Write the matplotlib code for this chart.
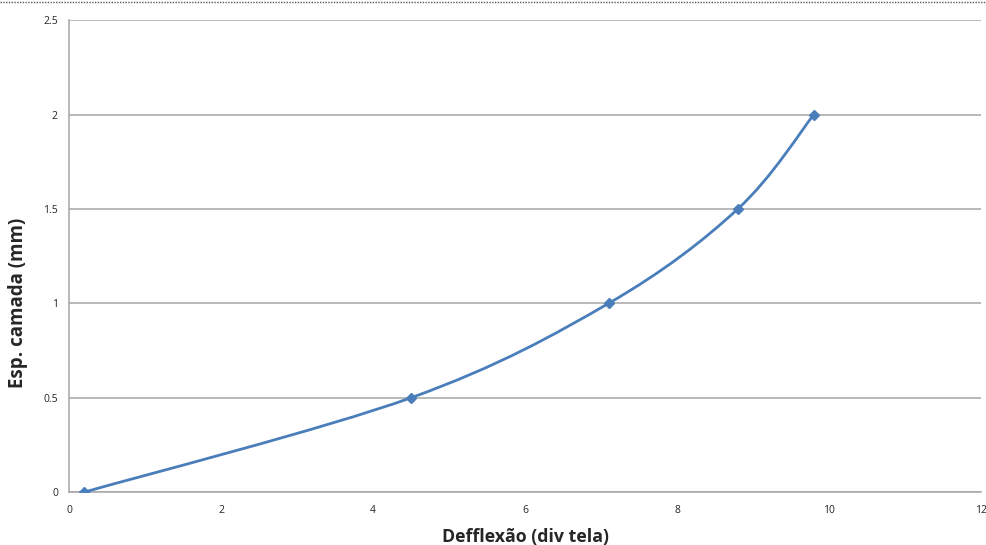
import numpy as np
import matplotlib
matplotlib.use('Agg')
import matplotlib.pyplot as plt
from matplotlib.path import Path
from matplotlib.patches import PathPatch

# valores
deflexao = [0.2, 4.5, 7.1, 8.8, 9.8]
espessura = [0.0, 0.5, 1.0, 1.5, 2.0]
x_ticks = [0, 2, 4, 6, 8, 10, 12]
y_ticks = [0, 0.5, 1, 1.5, 2, 2.5]
y_tick_labels = ['0', '0.5', '1', '1.5', '2', '2.5']

cor = '#4a7ebb'
cinza = '#a6a6a6'


def smooth_path(xs, ys):
    # curva suave estilo excel (bezier tipo catmull-rom)
    pts = np.column_stack([xs, ys])
    verts = [pts[0]]
    codes = [Path.MOVETO]
    n = len(pts)
    for i in range(n - 1):
        p0 = pts[i - 1] if i > 0 else pts[i]
        p1 = pts[i]
        p2 = pts[i + 1]
        p3 = pts[i + 2] if i + 2 < n else pts[i + 1]
        c1 = p1 + (p2 - p0) / 6.0
        c2 = p2 - (p3 - p1) / 6.0
        verts += [c1, c2, p2]
        codes += [Path.CURVE4] * 3
    return Path(verts, codes)


plt.rcParams['font.family'] = ['Open Sans', 'DejaVu Sans']
fig = plt.figure(figsize=(9.86, 5.45), dpi=100)
ax = fig.add_axes([0.070, 0.097, 0.925, 0.866])

ax.set_xlim(0, 12)
ax.set_ylim(0, 2.5)
ax.set_xticks(x_ticks)
ax.set_yticks(y_ticks)
ax.set_yticklabels(y_tick_labels)
ax.tick_params(length=0, labelsize=7.5, colors='#262626', pad=8)
ax.tick_params(axis='x', pad=9)

ax.grid(axis='y', color=cinza, linewidth=1.1)
ax.set_axisbelow(True)
for s in ['top', 'right']:
    ax.spines[s].set_visible(False)
for s in ['left', 'bottom']:
    ax.spines[s].set_color(cinza)
    ax.spines[s].set_linewidth(1.1)

patch = PathPatch(smooth_path(deflexao, espessura), facecolor='none',
                  edgecolor=cor, linewidth=2, zorder=3)
ax.add_patch(patch)
ax.plot(deflexao, espessura, linestyle='none', marker='D', markersize=5.5,
        color=cor, zorder=4)

ax.set_xlabel('Defflexão (div tela)', fontsize=12.8, fontweight='bold',
              color='#262626', labelpad=9)
ax.set_ylabel('Esp. camada (mm)', fontsize=13.5, fontweight='bold',
              color='#262626', va='center')
ax.yaxis.set_label_coords(-0.056, 0.40)

# borda pontilhada no topo
fig.add_artist(plt.Line2D([0, 1], [0.996, 0.996], transform=fig.transFigure,
                          color='#555555', linestyle=(0, (1, 1)), linewidth=1))

fig.savefig('out.png', dpi=100)
